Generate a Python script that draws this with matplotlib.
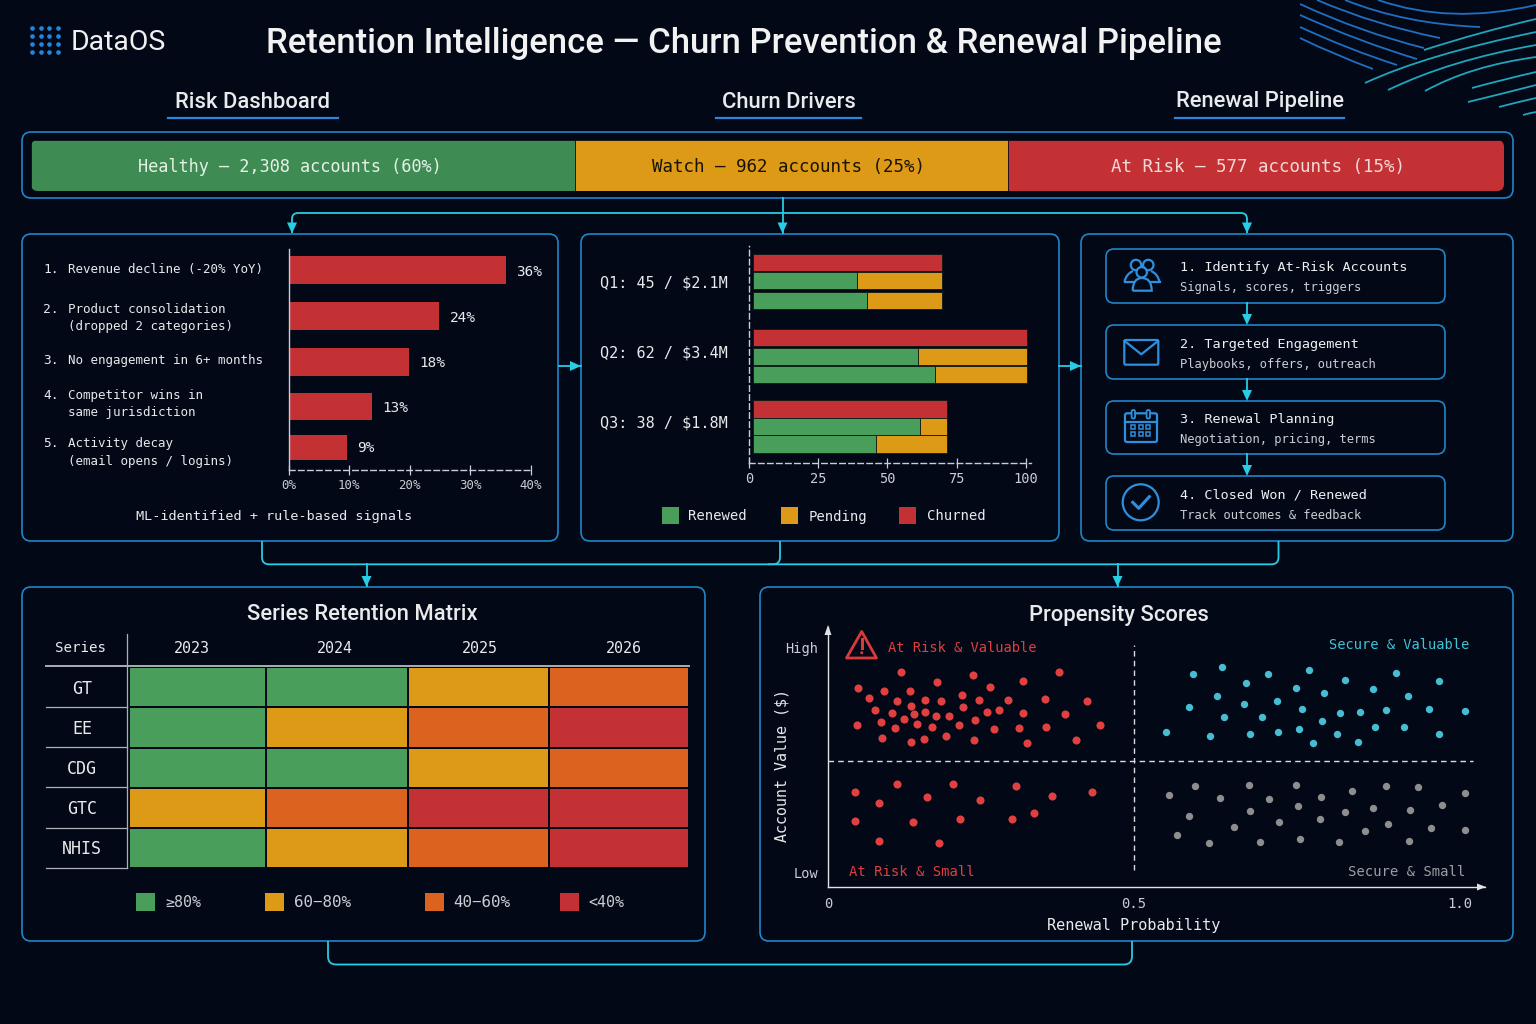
import matplotlib
matplotlib.use('Agg')
import matplotlib.pyplot as plt
import numpy as np
from matplotlib.colors import ListedColormap
from matplotlib.patches import FancyBboxPatch, Circle, Polygon, Rectangle
from matplotlib.path import Path
from matplotlib.patches import PathPatch

W, H = 1536, 1024
BG = '#020816'
FRAME = '#1f86c8'
CYAN = '#26cde4'
BLUE = '#2f8fdc'
GREEN = '#4a9e5c'
AMBER = '#dd9a17'
ORANGE = '#dc631f'
RED = '#c43135'
TEXT = '#e8eaec'
SOFT = '#c9ced4'
MONO = 'DejaVu Sans Mono'
HEAD = 'Roboto'

# risk dashboard
risk_names = ['Healthy', 'Watch', 'At Risk']
risk_accounts = [2308, 962, 577]
risk_pct = [60, 25, 15]
risk_drawn = [36.9, 29.4, 33.7]

# churn drivers
driver_rank = ['1.', '2.', '3.', '4.', '5.']
driver_lines = [['Revenue decline (-20% YoY)'],
                ['Product consolidation', '(dropped 2 categories)'],
                ['No engagement in 6+ months'],
                ['Competitor wins in', 'same jurisdiction'],
                ['Activity decay', '(email opens / logins)']]
driver_drawn = [35.8, 24.9, 19.9, 13.7, 9.6]
driver_labels = ['36%', '24%', '18%', '13%', '9%']

# renewal quarters, three rows each
quarter_labels = ['Q1: 45 / $2.1M', 'Q2: 62 / $3.4M', 'Q3: 38 / $1.8M']
churned = [68.6, 99.1, 70.4]
renewed_a = [37.6, 59.9, 60.5]
pending_a = [31.0, 39.2, 9.9]
renewed_b = [41.4, 65.9, 44.5]
pending_b = [27.2, 33.2, 25.9]

# pipeline
step_titles = ['1. Identify At-Risk Accounts', '2. Targeted Engagement',
               '3. Renewal Planning', '4. Closed Won / Renewed']
step_subs = ['Signals, scores, triggers', 'Playbooks, offers, outreach',
             'Negotiation, pricing, terms', 'Track outcomes & feedback']

# matrix, 0 best band .. 3 worst band
series_names = ['GT', 'EE', 'CDG', 'GTC', 'NHIS']
matrix_years = ['2023', '2024', '2025', '2026']
matrix_bands = [[0, 0, 1, 2],
                [0, 1, 2, 3],
                [0, 0, 1, 2],
                [1, 2, 3, 3],
                [0, 1, 2, 3]]
band_labels = ['≥80%', '60−80%', '40−60%', '<40%']

# propensity scatter: renewal probability, account value index (low 0, high 224)
risk_big_x = [.119, .178, .237, .377, .049, .092, .134, .264, .319, .067, .113, .158, .184, .219, .246, .294, .354,
              .423, .135, .221, .076, .105, .141, .159, .176, .197, .260, .279, .318, .387, .124, .240, .086, .047,
              .146, .170, .214, .110, .272, .312, .357, .445, .088, .157, .192, .135, .238, .325, .405]
risk_big_y = [200, 190, 197, 200, 184, 181, 181, 185, 191, 174, 171, 172, 171, 177, 172, 172, 173,
              171, 166, 165, 162, 159, 158, 160, 156, 156, 160, 162, 159, 158, 153, 152, 150, 147,
              148, 145, 147, 144, 143, 144, 145, 147, 134, 133, 136, 130, 132, 129, 132]
risk_small_x = [.044, .113, .205, .308, .431, .083, .161, .248, .366, .044, .139, .216, .300, .337, .083, .182]
risk_small_y = [80, 88, 88, 86, 80, 69, 75, 72, 76, 51, 50, 53, 53, 59, 31, 29]
secure_big_x = [.591, .635, .671, .706, .768, .823, .902, .967, .749, .792, .866, .627, .920, .720, .668, .584, .757,
                .816, .847, .887, .953, 1.007, .638, .696, .788, .549, .616, .678, .721, .753, .811, .869, .914,
                .967, .775, .843]
secure_big_y = [198, 205, 189, 198, 202, 192, 199, 191, 184, 179, 183, 176, 176, 171, 168, 165, 163,
                159, 160, 162, 163, 161, 155, 155, 151, 140, 136, 138, 140, 143, 138, 145, 145,
                138, 129, 130]
secure_small_x = [.593, .676, .748, .886, .936, .553, .632, .707, .787, .835, 1.007, .752, .678, .823, .866, .923,
                  .973, .584, .785, .723, .654, .889, .854, .956, 1.007, .566, .615, .694, .755, .814, .921]
secure_small_y = [86, 87, 87, 86, 85, 77, 74, 73, 75, 81, 79, 66, 61, 60, 64, 62,
                  67, 56, 53, 50, 45, 48, 41, 44, 42, 37, 29, 30, 33, 30, 31]


fig = plt.figure(figsize=(W / 100, H / 100), dpi=100, facecolor=BG)
bg = fig.add_axes([0, 0, 1, 1])
bg.set_xlim(0, W)
bg.set_ylim(H, 0)
bg.axis('off')
bg.patch.set_alpha(0)


def px_axes(l, t, r, b):
    ax = fig.add_axes([l / W, 1 - b / H, (r - l) / W, (b - t) / H])
    ax.patch.set_alpha(0)
    return ax


def put(x, y, s, size, color=TEXT, ha='left', family=MONO, **kw):
    # matplotlib's centre sits a little high for these fonts
    nudge = 3 if family == HEAD else 1
    return bg.text(x, y + nudge, s, fontsize=size, color=color, ha=ha, va='center', family=family, **kw)


def frame(l, t, r, b, rad=9, lw=1.2):
    p = FancyBboxPatch((l, t), r - l, b - t, boxstyle=f'round,pad=0,rounding_size={rad}',
                       fc='none', ec=FRAME, lw=lw)
    bg.add_patch(p)


def rounded(points, r=7, color=CYAN, lw=1.3):
    # polyline with rounded bends
    pts = np.array(points, dtype=float)
    verts = [pts[0]]
    codes = [Path.MOVETO]
    for i in range(1, len(pts) - 1):
        a = pts[i] + (pts[i - 1] - pts[i]) / np.linalg.norm(pts[i - 1] - pts[i]) * r
        b = pts[i] + (pts[i + 1] - pts[i]) / np.linalg.norm(pts[i + 1] - pts[i]) * r
        verts += [a, pts[i], b]
        codes += [Path.LINETO, Path.CURVE3, Path.CURVE3]
    verts.append(pts[-1])
    codes.append(Path.LINETO)
    bg.add_patch(PathPatch(Path(verts, codes), fc='none', ec=color, lw=lw))


def head_down(x, tip, size=11, half=5, color=CYAN):
    bg.add_patch(Polygon([(x - half, tip - size), (x + half, tip - size), (x, tip)], fc=color, ec='none', zorder=4))


def head_right(x, y, size=11, half=5, color=CYAN):
    bg.add_patch(Polygon([(x - size, y - half), (x - size, y + half), (x, y)], fc=color, ec='none', zorder=4))


def curve(p0, p1, p2, color):
    bg.add_patch(PathPatch(Path([p0, p1, p2], [Path.MOVETO, Path.CURVE3, Path.CURVE3]), fc='none', ec=color, lw=1.3))


# corner lines
for a, b, c in [((1300, 38), (1335, 55), (1373, 69)), ((1300, 27), (1350, 50), (1397, 65)),
                ((1300, 15), (1360, 42), (1417, 59)), ((1300, 4), (1360, 32), (1424, 48)),
                ((1317, 0), (1375, 25), (1440, 38)), ((1345, 0), (1405, 24), (1480, 27)),
                ((1378, 0), (1450, 25), (1536, 5))]:
    curve(a, b, c, '#1f6fc4')
for a, b, c in [((1365, 83), (1425, 55), (1536, 32)), ((1424, 50), (1480, 32), (1536, 19)),
                ((1388, 90), (1450, 60), (1536, 45)), ((1425, 91), (1470, 66), (1536, 57)),
                ((1472, 88), (1505, 79), (1536, 72)), ((1468, 102), (1505, 93), (1536, 85)),
                ((1499, 107), (1518, 102), (1536, 98)), ((1523, 115), (1530, 113), (1536, 112))]:
    curve(a, b, c, '#1fa6bd')

# logo
bg.scatter(np.repeat([31.7, 40.7, 49, 57.7], 4), np.tile([28.3, 35.7, 43.7, 51.7], 4), s=11, c='#1e88e0', lw=0)
put(71, 40, 'DataOS', 20.5, color='#f0f0f0', family=HEAD)

put(743.5, 40, 'Retention Intelligence — Churn Prevention & Renewal Pipeline', 25, color='#f2f2f2',
    ha='center', family=HEAD, weight='medium')

for label, cx, lo, hi in [('Risk Dashboard', 252.5, 168, 338), ('Churn Drivers', 788.5, 716, 861),
                          ('Renewal Pipeline', 1259.5, 1175, 1344)]:
    put(cx, 99, label, 15.8, ha='center', family=HEAD, weight='medium')
    bg.plot([lo, hi], [118, 118], color='#2e86d8', lw=1.6)

# frames
frame(22, 132, 1513, 198)
frame(22, 234, 558, 541)
frame(581, 234, 1059, 541)
frame(1081, 234, 1513, 541)
frame(22, 587, 705, 941)
frame(760, 587, 1513, 941)

# connectors
rounded([(292, 233), (292, 213), (1247, 213), (1247, 233)], r=6)
bg.plot([782.5, 782.5], [198, 233], color=CYAN, lw=1.3)
for x in [292, 782.5, 1247]:
    head_down(x, 233.5)
rounded([(262, 541), (262, 564.3), (1278.5, 564.3), (1278.5, 541)], r=7)
rounded([(780, 541), (780, 564.3), (768, 564.3)], r=7)
for x in [366.5, 1117.5]:
    bg.plot([x, x], [564, 586], color=CYAN, lw=1.3)
    head_down(x, 587)
rounded([(328, 941), (328, 964.5), (1132, 964.5), (1132, 941)], r=8)
for l, r in [(559, 581), (1059, 1081)]:
    bg.plot([l, r], [366, 366], color=CYAN, lw=1.3)
    head_right(r, 366)

# risk bar
clip = FancyBboxPatch((31, 140), 1473, 51, boxstyle='round,pad=0,rounding_size=7', fc='none', ec='none')
bg.add_patch(clip)
ax_risk = px_axes(31, 140, 1504, 191)
ax_risk.axis('off')
ax_risk.set_zorder(-1)
left = 0
risk_colors = ['#3f8b54', AMBER, RED]
risk_text = ['#e6f2e6', '#1b1204', '#f3d9d6']
risk_label_x = [290, 788, 1258]
risk_label_size = [12.2, 12.6, 12.6]
for i in range(3):
    rect = ax_risk.barh(0, risk_drawn[i], left=left, height=1, color=risk_colors[i],
                        edgecolor=BG, lw=0.5)[0]
    rect.set_clip_path(clip)
    put(risk_label_x[i], 166, f'{risk_names[i]} — {risk_accounts[i]:,} accounts ({risk_pct[i]}%)',
        risk_label_size[i], color=risk_text[i], ha='center', zorder=5)
    left += risk_drawn[i]
ax_risk.set_xlim(0, sum(risk_drawn))
ax_risk.set_ylim(-0.5, 0.5)

# driver list
driver_rows = [[268.5], [308.5, 325.5], [359.5], [394.5, 411.5], [442.5, 460.5]]
for i in range(5):
    put(43, driver_rows[i][0], driver_rank[i], 9.3)
    for y, line in zip(driver_rows[i], driver_lines[i]):
        put(67.5, y, line, 9)
put(274.5, 515.5, 'ML-identified + rule-based signals', 9.7, ha='center')

ax_d = px_axes(288.6, 249, 531, 469.5)
ax_d.set_xlim(0, 40)
ax_d.set_ylim(469.5, 249)
driver_centers = [270, 316, 362, 406, 447.5]
driver_heights = [28, 28.5, 28, 27, 25]
ax_d.barh(driver_centers, driver_drawn, height=driver_heights, color=RED)
for v, y, lab in zip(driver_drawn, [272, 318, 363, 408, 448], driver_labels):
    ax_d.annotate(lab, (v, y), xytext=(7.5, 0), textcoords='offset points', fontsize=10.4, family=MONO,
                  color=TEXT, va='center')
ax_d.set_xticks([0, 10, 20, 30, 40])
ax_d.set_xticklabels(['0%', '10%', '20%', '30%', '40%'], family=MONO, fontsize=8.9, color=SOFT)
ax_d.set_yticks([])
ax_d.tick_params(axis='x', direction='inout', length=7, width=0.9, color=SOFT, pad=3.5)
for s in ['top', 'right']:
    ax_d.spines[s].set_visible(False)
ax_d.spines['left'].set_color(SOFT)
ax_d.spines['left'].set_linewidth(1)
ax_d.spines['bottom'].set_color(SOFT)
ax_d.spines['bottom'].set_linewidth(1)
ax_d.spines['bottom'].set_linestyle((0, (4, 2.5)))

# quarters
ax_q = px_axes(749, 246, 1031, 463.3)
ax_q.set_xlim(0, 101.9)
ax_q.set_ylim(463.3, 246)
bar_start = 1.3
row_top = [262.5, 337.7, 409]
row_mid = [280.7, 356, 426.7]
row_low = [300.2, 374.7, 444.2]
row_h = [17, 17, 17.5]
eb = dict(edgecolor='#0b1a16', lw=0.6)
ax_q.barh(row_top, churned, left=bar_start, height=row_h, color=RED, **eb)
ax_q.barh(row_mid, renewed_a, left=bar_start, height=row_h, color=GREEN, **eb)
ax_q.barh(row_mid, pending_a, left=np.add(renewed_a, bar_start), height=row_h, color=AMBER, **eb)
ax_q.barh(row_low, renewed_b, left=bar_start, height=row_h, color=GREEN, **eb)
ax_q.barh(row_low, pending_b, left=np.add(renewed_b, bar_start), height=row_h, color=AMBER, **eb)
ax_q.set_xticks([0, 25, 50, 75, 100])
ax_q.set_xticklabels(['0', '25', '50', '75', '100'], family=MONO, fontsize=9.8, color=SOFT)
ax_q.set_yticks([])
ax_q.tick_params(axis='x', direction='inout', length=7, width=0.9, color=SOFT, pad=3)
for s in ['top', 'right']:
    ax_q.spines[s].set_visible(False)
for s in ['left', 'bottom']:
    ax_q.spines[s].set_color(SOFT)
    ax_q.spines[s].set_linewidth(1)
    ax_q.spines[s].set_linestyle((0, (4, 2.5)))
for y, lab in zip([281.5, 352.5, 422.5], quarter_labels):
    put(600.5, y, lab, 10.9)
for x, tx, c, lab in [(662, 688, GREEN, 'Renewed'), (781, 809, AMBER, 'Pending'), (899, 927, RED, 'Churned')]:
    bg.add_patch(Rectangle((x, 507), 16.5, 16.5, fc=c, ec='none'))
    put(tx, 515.5, lab, 10)

# pipeline steps
step_tops = [249, 325, 401, 476]
step_bottoms = [303, 379, 454, 530]
step_title_y = [266.5, 343.5, 418.5, 494.5]
step_sub_y = [286.5, 363.5, 438.5, 514.5]
for i in range(4):
    frame(1106, step_tops[i], 1445, step_bottoms[i], rad=8)
    put(1180, step_title_y[i], step_titles[i], 9.7, color='#eef0f2')
    put(1180, step_sub_y[i], step_subs[i], 8.7, color=SOFT)
    if i < 3:
        bg.plot([1247, 1247], [step_bottoms[i], step_tops[i + 1] - 5], color=CYAN, lw=1.3)
        head_down(1247, step_tops[i + 1])

# people icon
ik = dict(fc='none', ec=BLUE, lw=1.6)
for cx, cy in [(1136, 265), (1148.3, 265)]:
    bg.add_patch(Circle((cx, cy), 5.2, **ik))
bg.add_patch(Circle((1141.7, 272.3), 5.2, fc=BG, ec=BLUE, lw=1.6, zorder=3))
bg.add_patch(PathPatch(Path([(1124.5, 282), (1126, 274), (1133, 271)], [1, 3, 3]), **ik))
bg.add_patch(PathPatch(Path([(1159.5, 282), (1158, 274), (1151, 271)], [1, 3, 3]), **ik))
bg.plot([1124.5, 1133], [282, 282], color=BLUE, lw=1.6)
bg.plot([1151, 1159.5], [282, 282], color=BLUE, lw=1.6)
bg.add_patch(PathPatch(Path([(1132.7, 290.7), (1132.7, 278), (1142, 278), (1151.7, 278), (1151.7, 290.7), (1132.7, 290.7)],
                            [1, 3, 3, 3, 3, 2]), **ik))
# envelope
bg.add_patch(FancyBboxPatch((1124.3, 340), 34, 24.7, boxstyle='round,pad=0,rounding_size=1.5', **ik))
bg.plot([1124.6, 1141.3, 1158], [341, 354.3, 341], color=BLUE, lw=1.6)
# calendar
bg.add_patch(FancyBboxPatch((1125, 413.3), 32, 28.7, boxstyle='round,pad=0,rounding_size=2', **ik))
bg.plot([1125, 1157], [421.7, 421.7], color=BLUE, lw=1.6)
for x in [1133.3, 1148.3]:
    bg.add_patch(FancyBboxPatch((x - 1.7, 410), 3.4, 8.5, boxstyle='round,pad=0,rounding_size=1.5',
                                fc=BG, ec=BLUE, lw=1.3, zorder=3))
for x in [1133.3, 1141, 1148.3]:
    for y in [427.3, 434]:
        bg.add_patch(Rectangle((x - 2, y - 2), 4, 4, fc='none', ec=BLUE, lw=1.1))
# check
bg.add_patch(Circle((1140.7, 502.3), 18, **ik))
bg.plot([1132.7, 1138.7, 1149.3], [502.3, 508.3, 496.7], color=BLUE, lw=2.2)

# matrix
put(362.5, 612, 'Series Retention Matrix', 15.8, ha='center', family=HEAD, weight='medium')
ax_m = px_axes(129, 667, 689, 868)
col_edges = [129, 265.5, 408, 549, 689]
row_edges = [667, 707, 747.5, 788, 828, 868]
band_cmap = ListedColormap([GREEN, AMBER, ORANGE, RED])
ax_m.pcolormesh(col_edges, row_edges, np.array(matrix_bands), cmap=band_cmap, vmin=0, vmax=3,
                edgecolors=BG, linewidth=1.1)
ax_m.set_xlim(129, 689)
ax_m.set_ylim(868, 667)
ax_m.axis('off')
for x, year in zip([192, 335, 480, 624], matrix_years):
    put(x, 647.5, year, 10.8, ha='center')
put(80, 647.5, 'Series', 10.2, ha='center')
for y, name in zip([687.5, 727.5, 768, 808, 848.5], series_names):
    put(82, y, name, 12, ha='center')
bg.plot([127.4, 127.4], [634, 868], color='#aab0b6', lw=0.9)
bg.plot([46, 689], [666, 666], color='#aab0b6', lw=1.4)
for y in [707, 747, 787, 828, 868]:
    bg.plot([46, 127.4], [y, y], color='#aab0b6', lw=0.9)
for x, tx, c, lab in zip([136, 265, 425, 560], [165, 294, 453, 588], [GREEN, AMBER, ORANGE, RED], band_labels):
    bg.add_patch(Rectangle((x, 893), 19, 18, fc=c, ec='none'))
    put(tx, 901.5, lab, 11.4 if lab[0] in '64' else 10.8, color=SOFT)

# propensity
put(1119, 612, 'Propensity Scores', 15.8, ha='center', family=HEAD, weight='medium')
ax_s = px_axes(828, 627, 1485, 887)


def prob_to_px(x):
    return np.interp(x, [0, 0.5, 1.0383], [0, 306, 657])


def px_to_prob(x):
    return np.interp(x, [0, 306, 657], [0, 0.5, 1.0383])


ax_s.set_xscale('function', functions=(prob_to_px, px_to_prob))
ax_s.set_xlim(0, 1.0383)
ax_s.set_ylim(-15, 245)
ax_s.scatter(risk_big_x, risk_big_y, s=34, color='#e0403f', lw=0, zorder=3)
ax_s.scatter(risk_small_x, risk_small_y, s=34, color='#e0403f', lw=0, zorder=3)
ax_s.scatter(secure_big_x, secure_big_y, s=28, color='#46bdd2', lw=0, zorder=3)
ax_s.scatter(secure_small_x, secure_small_y, s=28, color='#8e8e8e', lw=0, zorder=3)
ax_s.plot([0, 1.02], [111, 111], color='#d8dce0', lw=1, ls=(0, (4, 3)))
ax_s.plot([0.5, 0.5], [2, 227], color='#d8dce0', lw=1, ls=(0, (4, 3)))
ax_s.set_xticks([0, 0.5, 1.0])
ax_s.set_xticklabels(['0', '0.5', '1.0'], family=MONO, fontsize=10, color=SOFT)
ax_s.set_yticks([0, 224])
ax_s.set_yticklabels(['Low', 'High'], family=MONO, fontsize=9.8, color=SOFT)
ax_s.xaxis.set_minor_locator(plt.NullLocator())
ax_s.tick_params(length=0)
ax_s.tick_params(axis='x', pad=7.5)
ax_s.tick_params(axis='y', pad=7)
for s in ['top', 'right']:
    ax_s.spines[s].set_visible(False)
for s in ['left', 'bottom']:
    ax_s.spines[s].set_color('#e0e3e6')
    ax_s.spines[s].set_linewidth(1)
head_right(1486, 887, size=9, half=3.5, color='#e0e3e6')
bg.add_patch(Polygon([(824.5, 635), (831.5, 635), (828, 625)], fc='#e0e3e6', ec='none', zorder=4))
ax_s.set_xlabel('Renewal Probability', family=MONO, fontsize=11, color=TEXT)
put(782, 764, 'Account Value ($)', 10.8, ha='center', rotation=90)
ax_s.xaxis.set_label_coords((1134 - 828) / 657, -0.12)

bg.add_patch(Polygon([(861.7, 631.5), (876.5, 658), (846.5, 658)], closed=True, fc='none', ec='#d93a3a', lw=2,
                     joinstyle='round'))
bg.plot([861.7, 861.7], [639, 648], color='#d93a3a', lw=2.2)
bg.add_patch(Circle((861.7, 652.8), 1.5, fc='#d93a3a', ec='none'))
put(888, 647.5, 'At Risk & Valuable', 9.9, color='#dd3f3f')
put(1469, 644, 'Secure & Valuable', 9.9, color='#3fc4d8', ha='right')
put(849, 871, 'At Risk & Small', 10, color='#dd3f3f')
put(1465, 871, 'Secure & Small', 10, color='#9a9ea2', ha='right')

fig.savefig('out.png', dpi=100, facecolor=BG)
